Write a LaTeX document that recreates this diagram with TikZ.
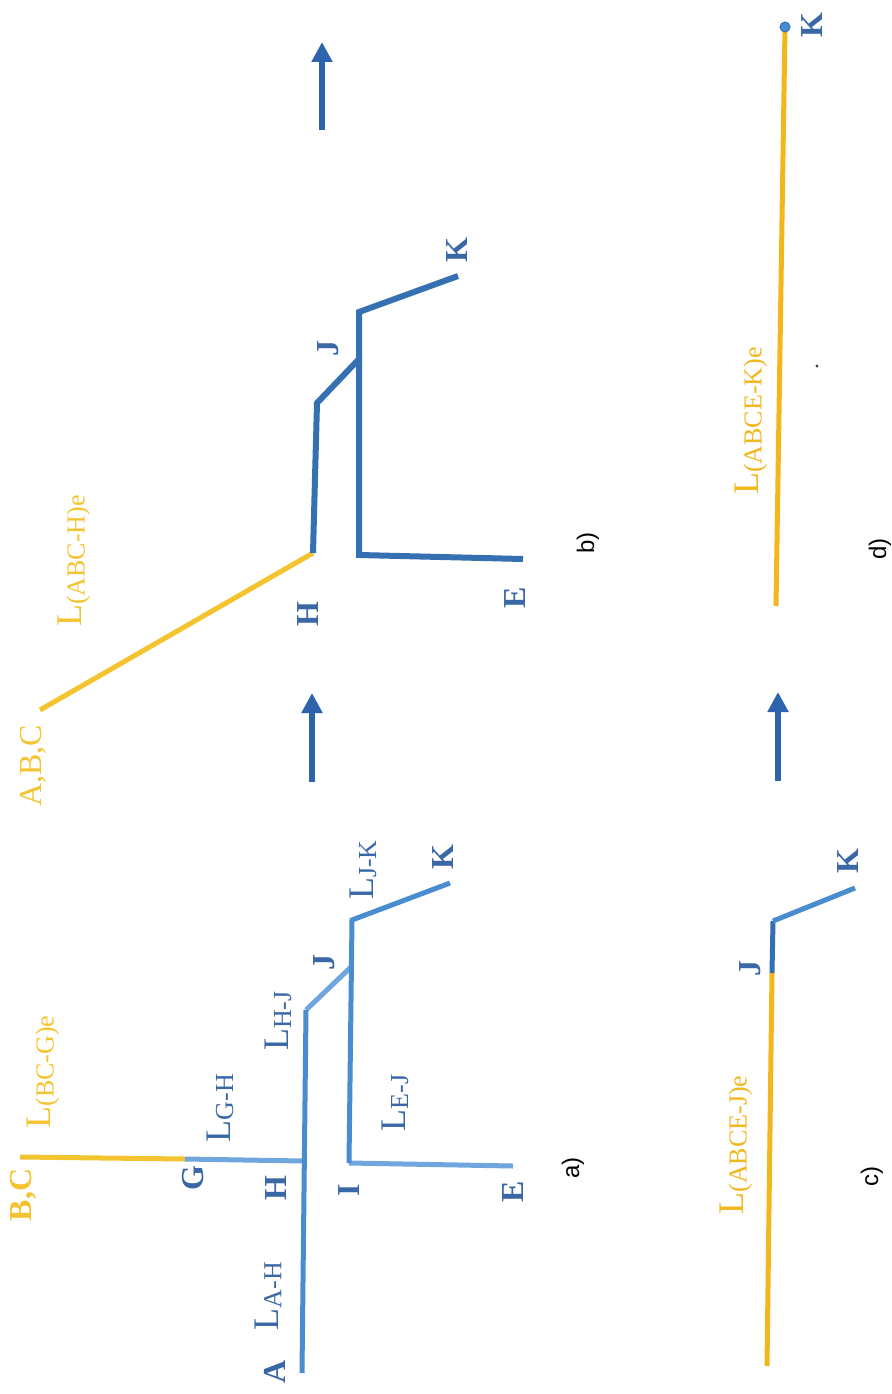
\documentclass[tikz,border=0pt]{standalone}
\usepackage{fontspec}
\setmainfont{Liberation Serif}
\newfontfamily\sansf{Liberation Sans}
\usetikzlibrary{arrows.meta}
\definecolor{yel}{RGB}{244,196,48}
\definecolor{yeld}{RGB}{243,183,30}
\definecolor{bluea}{RGB}{74,140,208}
\definecolor{bluel}{RGB}{112,166,222}
\definecolor{blueb}{RGB}{52,112,178}
\definecolor{bluet}{RGB}{58,104,166}
\definecolor{arrowc}{RGB}{45,100,172}
\newcommand\Lsub[1]{L\raisebox{-3pt}{\fontsize{26}{28}\selectfont #1}}
\tikzset{
  ln/.style={line width=5pt},
  lnb/.style={line width=6pt},
  ptl/.style={rotate=90, inner sep=0pt, font=\bfseries\fontsize{32}{34}\selectfont},
  lab/.style={rotate=90, inner sep=0pt, font=\fontsize{36}{38}\selectfont},
  capl/.style={rotate=90, inner sep=0pt, font=\sansf\fontsize{24}{26}\selectfont},
  bigarrow/.style={line width=6pt, arrowc, -{Triangle[width=20pt,length=20pt]}},
}
\begin{document}
\begin{tikzpicture}[x=1pt,y=-1pt]
\useasboundingbox[fill=white] (0,0) rectangle (891,1394);
% ---------- panel a ----------
\coordinate (A) at (302,1373);
\coordinate (Hx) at (303,1161);
\coordinate (Hc) at (306,1010);
\coordinate (BCa) at (20,1157);
\coordinate (Ga) at (185,1159);
\coordinate (Ia) at (349,1163);
\coordinate (Ea) at (513,1166);
\coordinate (Ja) at (351,967);
\coordinate (JKa) at (352,920);
\coordinate (Ka) at (450,883);
\draw[ln,yel] (BCa) -- (Ga);
\draw[ln,bluel] (Ga) -- (Hx);
\draw[ln,bluel] (Hc) -- (Ja);
\draw[ln,bluea] (A) -- (Hc);
\draw[ln,bluel] (Ea) -- (Ia);
\draw[ln,bluea,line join=miter] (Ia) -- (JKa) -- (Ka);
\node[ptl,yel] (tBCa) at (23,1195) {B,C};
\node[lab,yel] (tLBCG) at (43,1072) {\Lsub{(BC-G)e}};
\node[ptl,bluet] (tGa) at (193,1178) {G};
\node[lab,bluet] (tLGH) at (220,1108) {\Lsub{G-H}};
\node[ptl,bluet] (tHa) at (276,1188) {H};
\node[lab,bluet] (tLAH) at (268,1296) {\Lsub{A-H}};
\node[ptl,bluet] (tAa) at (275,1372) {A};
\node[ptl,bluet] (tIa) at (349,1190) {I};
\node[ptl,bluet] (tEa) at (513,1192) {E};
\node[lab,bluet] (tLEJ) at (395,1103) {\Lsub{E-J}};
\node[lab,bluet] (tLHJ) at (278,1021) {\Lsub{H-J}};
\node[ptl,bluet] (tJa) at (324,962) {J};
\node[lab,bluet] (tLJK) at (363,870) {\Lsub{J-K}};
\node[ptl,bluet] (tKa) at (443,857) {K};
\node[capl] (ta) at (573,1168) {a)};
% ---------- panel b ----------
\coordinate (ABC) at (40,710);
\coordinate (Hb) at (313,553);
\coordinate (Hbc) at (317,403);
\coordinate (Jb) at (360,358);
\coordinate (Ib) at (359,555);
\coordinate (JKb) at (359,312);
\coordinate (Kb) at (458,276);
\coordinate (Eb) at (523,559);
\draw[ln,yel] (ABC) -- (Hb);
\draw[lnb,blueb,line join=miter] (Hb) -- (Hbc) -- (Jb);
\draw[lnb,blueb,line join=miter] (Eb) -- (Ib) -- (JKb) -- (Kb);
\node[ptl,yel,font=\fontsize{32}{34}\selectfont] (tABC) at (33,766) {A,B,C};
\node[lab,yel] (tLABCH) at (74,561) {\Lsub{(ABC-H)e}};
\node[ptl,bluet] (tHb) at (308,614) {H};
\node[ptl,bluet] (tEb) at (515,598) {E};
\node[ptl,bluet] (tJb) at (328,348) {J};
\node[ptl,bluet] (tKb) at (457,250) {K};
\node[capl] (tb) at (588,543) {b)};
% ---------- panel c ----------
\coordinate (c0) at (767,1366);
\coordinate (Jc) at (772,973);
\coordinate (Jcc) at (773,921);
\coordinate (Kc) at (855,888);
\draw[ln,yeld] (c0) -- (Jc);
\draw[ln,blueb] (Jc) -- (Jcc);
\draw[ln,bluea] (Jcc) -- (Kc);
\node[lab,yeld] (tLABCEJ) at (736,1145) {\Lsub{(ABCE-J)e}};
\node[ptl,bluet] (tJc) at (750,968) {J};
\node[ptl,bluet] (tKc) at (848,861) {K};
\node[capl] (tc) at (872,1176) {c)};
% ---------- panel d ----------
\coordinate (d0) at (776,606);
\coordinate (Kd) at (785,27);
\draw[ln,yeld] (d0) -- (Kd);
\node[circle, fill=bluea, draw=blueb, line width=1pt, minimum size=10pt, inner sep=0pt] (Kdot) at (Kd) {};
\node[ptl,bluet] (tKd) at (812,25) {K};
\node[lab,yeld] (tLABCEK) at (751,421) {\Lsub{(ABCE-K)e}};
\fill[black!75] (817,366) circle (1.6pt);
\node[capl] (td) at (880,549) {d)};
% ---------- arrows ----------
\coordinate (a1s) at (312,782); \coordinate (a1e) at (312,693);
\coordinate (a2s) at (778,781); \coordinate (a2e) at (778,692);
\coordinate (a3s) at (322,130); \coordinate (a3e) at (322,42);
\draw[bigarrow] (a1s) -- (a1e);
\draw[bigarrow] (a2s) -- (a2e);
\draw[bigarrow] (a3s) -- (a3e);
\end{tikzpicture}
\end{document}
